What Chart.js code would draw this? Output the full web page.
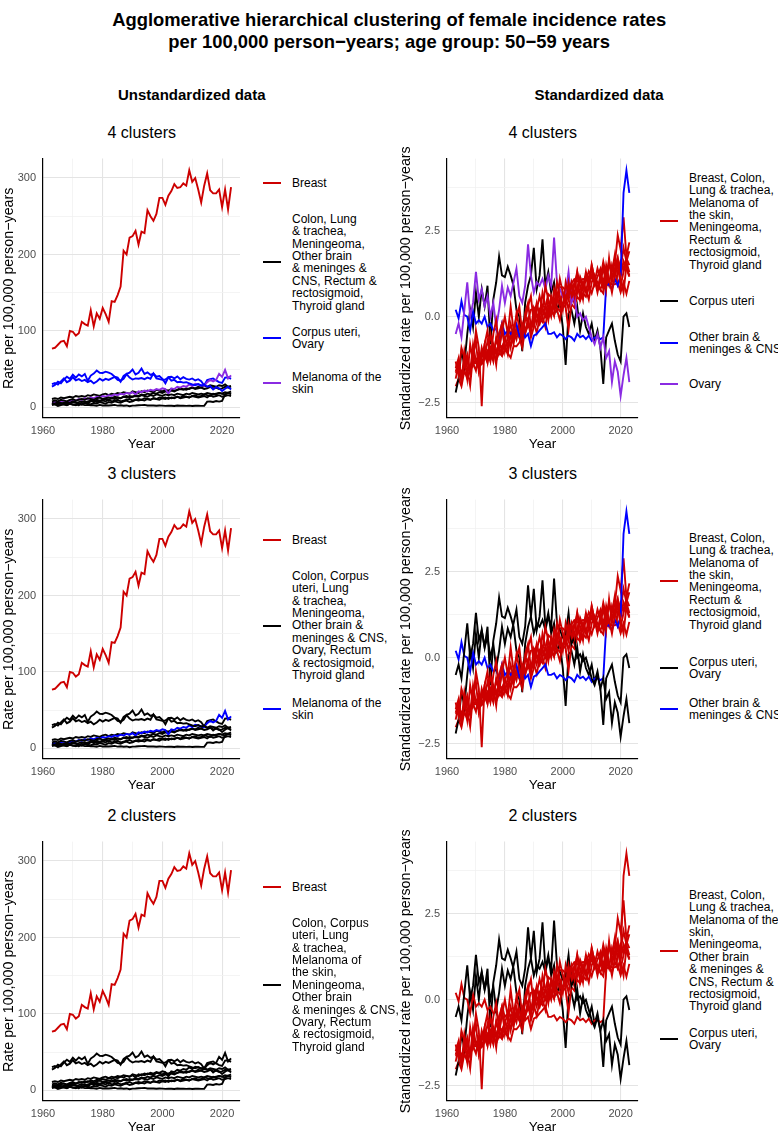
<!DOCTYPE html>
<html><head><meta charset="utf-8">
<script src="https://cdn.jsdelivr.net/npm/chart.js@4.4.1/dist/chart.umd.min.js"></script>
<style>
body{margin:0;background:#fff;font-family:"Liberation Sans",Arial,Helvetica,sans-serif;}
#page{position:relative;width:778px;height:1132px;overflow:hidden;background:#fff;}
.t{position:absolute;white-space:nowrap;color:#000;}
canvas{position:absolute;}
.leg{position:absolute;font-size:12px;line-height:12.4px;color:#000;white-space:nowrap;}
.key{position:absolute;width:18px;height:2px;}
</style></head>
<body><div id="page"></div>
<script>
// ---------------- DATA ----------------
const years = [1963,1964,1965,1966,1967,1968,1969,1970,1971,1972,
1973,1974,1975,1976,1977,1978,1979,1980,1981,1982,
1983,1984,1985,1986,1987,1988,1989,1990,1991,1992,
1993,1994,1995,1996,1997,1998,1999,2000,2001,2002,
2003,2004,2005,2006,2007,2008,2009,2010,2011,2012,
2013,2014,2015,2016,2017,2018,2019,2020,2021,2022,2023];

const seriesNames = ['Breast','Colon','Corpus uteri','Lung & trachea','Melanoma of the skin','Meningeoma',
  'Other brain & meninges & CNS','Ovary','Rectum & rectosigmoid','Thyroid gland'];

// Unstandardized rates per 100,000 person-years
const breast = [77,78,82,86,87,80,100,99,94,97,
112,109,107,127,106,123,116,130,122,112,
139,138,147,158,205,200,222,224,231,213,
230,228,258,250,244,253,274,274,265,277,
283,292,287,288,293,290,310,295,300,285,
268,290,306,284,280,280,285,262,285,259,288];
const colon = [11,12,11,13,12,13,14,13,15,14,
15,14,16,15,17,16,15,17,18,16,
18,17,19,18,20,19,18,21,20,19,
21,20,22,21,20,23,22,21,23,22,
24,22,23,25,24,23,25,26,24,25,
26,24,25,27,25,26,24,25,27,26,25];
const corpusUteri = [27.3,29.5,33.7,31.6,36.4,40.1,37.4,42.7,39.0,43.2,
40.6,43.8,34.8,41.7,44.3,48.3,45.4,45.1,46.7,45.4,
43.8,40.1,39.0,33.7,41.1,43.8,45.4,49.6,43.2,45.4,
50.9,43.8,45.9,42.7,44.3,40.1,41.1,37.4,31.6,39.5,
40.1,37.9,40.6,36.9,39.5,37.4,36.4,37.9,35.3,36.9,
34.2,28.7,35.8,36.9,37.9,35.3,33.2,32.1,39.0,39.5,37.4];
const lungTrachea = [4,5,4,5,6,5,6,7,6,7,
8,7,8,9,8,10,9,10,11,10,
12,11,13,12,14,13,15,14,16,15,
17,16,18,17,19,18,20,19,21,20,
22,21,23,24,23,25,24,26,25,27,
26,28,27,29,28,27,29,28,30,27,28];
const melanoma = [6,7,6,8,9,7,8,10,9,11,
10,12,11,13,12,14,13,15,14,16,
15,17,16,18,17,19,18,20,17,21,
20,22,21,23,22,24,23,25,24,18,
25,24,27,26,28,27,30,28,31,30,
29,28,33,36,34,36,44,40,49,38,42];
const meningeoma = [3,4,2,3,4,3,5,4,3,5,
4,6,5,4,6,5,7,6,5,7,
6,8,7,6,8,9,7,8,10,9,
10,9,11,10,12,11,10,12,13,11,
13,12,14,13,15,14,13,15,16,14,
15,17,16,15,18,17,19,18,20,19,21];
const otherBrain = [5.0,4.0,5.5,4.3,4.2,3.2,4.6,3.4,3.8,3.5,
4.0,3.0,3.4,2.8,2.9,2.3,3.3,2.6,2.8,2.5,
2.9,3.3,2.4,2.8,2.2,2.6,1.6,2.4,2.5,2.8,
3.0,3.3,2.5,2.5,2.6,2.2,2.5,2.4,2.0,2.4,
2.2,1.9,2.5,2.2,2.4,2.0,2.4,1.9,2.2,2.2,
2.0,2.2,7.6,7.8,7.2,8.3,7.6,8.6,17.0,19.5,17.0];
const ovary = [30.5,32,30,34,38,33,35,39.5,35.5,37,
34.5,36,33,35,31.5,34,37.5,35,37.3,36,
38,40,36,35,37.5,43.5,39,36.5,38,37.5,
38.5,37,39,37.5,44.5,38,37,36,36.5,39.5,
35,36,33,33.5,32.5,33,31.5,30,29,30.5,
28.5,30,27,28,23.5,26.5,25,21.5,24.5,27,23.5];
const rectum = [8,9,8,10,9,8,10,11,9,10,
11,10,12,11,10,12,13,11,12,13,
12,14,13,12,14,15,13,14,15,14,
16,15,14,16,15,17,16,15,17,16,
17,16,18,17,16,18,17,19,18,17,
18,17,19,18,17,18,19,18,17,19,18];
const thyroid = [6,5,7,6,5,7,6,8,7,3,
7,8,6,8,9,7,8,9,8,10,
8,9,10,8,9,10,11,9,10,11,
10,12,11,10,12,11,13,12,11,13,
12,13,14,12,13,14,13,15,14,13,
14,15,13,16,14,15,16,14,15,16,15];

// Standardized rates (z-scores per cancer site)
const breastStd = [-1.63,-1.62,-1.57,-1.52,-1.51,-1.59,-1.34,-1.35,-1.42,-1.38,
-1.19,-1.23,-1.25,-1.00,-1.27,-1.05,-1.14,-0.96,-1.06,-1.19,
-0.85,-0.86,-0.75,-0.61,-0.01,-0.08,0.20,0.23,0.32,0.09,
0.30,0.28,0.66,0.56,0.48,0.59,0.86,0.86,0.75,0.90,
0.97,1.09,1.03,1.04,1.10,1.06,1.32,1.13,1.19,1.00,
0.78,1.06,1.27,0.99,0.94,0.94,1.00,0.71,1.00,0.67,1.04];
const colonStd = [-2.02,-1.80,-2.02,-1.57,-1.80,-1.57,-1.34,-1.57,-1.11,-1.34,
-1.11,-1.34,-0.89,-1.11,-0.66,-0.89,-1.11,-0.66,-0.43,-0.89,
-0.43,-0.66,-0.20,-0.43,0.02,-0.20,-0.43,0.25,0.02,-0.20,
0.25,0.02,0.48,0.25,0.02,0.70,0.48,0.25,0.70,0.48,
0.93,0.48,0.70,1.16,0.93,0.70,1.16,1.39,0.93,1.16,
1.39,0.93,1.16,1.61,1.16,1.39,0.93,1.16,1.61,1.39,1.16];
const corpusUteriStd = [-2.2,-1.8,-1.0,-1.4,-0.5,0.2,-0.3,0.7,0.0,0.8,
0.3,0.9,-0.8,0.5,1.0,1.75,1.2,1.15,1.45,1.2,
0.9,0.2,0.0,-1.0,0.4,0.9,1.2,2.0,0.8,1.2,
2.25,0.9,1.3,0.7,1.0,0.2,0.4,-0.3,-1.4,0.1,
0.2,-0.2,0.3,-0.4,0.1,-0.3,-0.5,-0.2,-0.7,-0.4,
-0.9,-1.95,-0.6,-0.4,-0.2,-0.7,-1.1,-1.3,0.0,0.1,-0.3];
const lungTracheaStd = [-1.6,-1.3,-1.7,-1.4,-1.2,-1.6,-1.1,-1.3,-1.5,-1.0,
-1.2,-1.0,-1.3,-0.8,-1.1,-0.7,-1.0,-0.6,-0.9,-0.5,
-0.7,-0.4,-0.6,-0.2,-0.5,-0.1,-0.4,0.1,-0.2,0.2,
0.0,0.3,0.1,0.5,0.2,0.6,0.3,0.7,0.4,0.8,
0.6,1.0,0.7,1.1,0.8,1.3,0.9,1.2,1.0,1.4,
1.1,1.6,1.2,1.5,1.3,1.8,1.2,1.6,1.4,1.7,1.5];
const melanomaStd = [-1.63,-1.53,-1.63,-1.42,-1.32,-1.53,-1.42,-1.21,-1.32,-1.11,
-1.21,-1.00,-1.11,-0.89,-1.00,-0.79,-0.89,-0.68,-0.79,-0.58,
-0.68,-0.47,-0.58,-0.37,-0.47,-0.26,-0.37,-0.16,-0.47,-0.05,
-0.16,0.05,-0.05,0.16,0.05,0.26,0.16,0.37,0.26,-0.37,
0.37,0.26,0.58,0.47,0.68,0.58,0.89,0.68,1.00,0.89,
0.79,0.68,1.21,1.53,1.32,1.53,2.37,1.95,2.89,1.74,2.16];
const meningeomaStd = [-1.5,-1.2,-1.9,-1.4,-1.1,-1.6,-0.8,-1.3,-1.5,-0.9,
-1.2,-0.7,-1.0,-1.3,-0.6,-1.0,-0.4,-0.8,-1.1,-0.5,
-0.8,-0.3,-0.6,-0.9,-0.4,-0.1,-0.6,-0.3,0.1,-0.2,
0.0,-0.3,0.3,0.0,0.5,0.2,-0.1,0.4,0.6,0.2,
0.7,0.4,0.9,0.6,1.0,0.8,0.5,1.0,1.2,0.8,
1.0,1.4,1.1,0.9,1.5,1.2,1.7,1.4,2.0,1.6,1.9];
const otherBrainStd = [0.2,-0.05,0.45,0.05,0.0,-0.4,0.15,-0.2,-0.1,-0.2,
0.0,-0.3,-0.2,-0.4,-0.35,-0.6,-0.2,-0.5,-0.4,-0.5,
-0.35,-0.2,-0.55,-0.4,-0.6,-0.5,-0.85,-0.55,-0.5,-0.4,
-0.3,-0.2,-0.5,-0.5,-0.45,-0.6,-0.5,-0.55,-0.65,-0.55,
-0.6,-0.7,-0.5,-0.6,-0.55,-0.65,-0.55,-0.7,-0.6,-0.6,
-0.65,-0.6,0.9,0.95,0.8,1.1,0.9,1.2,3.6,4.25,3.6];
const ovaryStd = [-0.5,-0.2,-0.6,0.2,1.0,0.0,0.4,1.3,0.5,0.8,
0.3,0.6,0.0,0.4,-0.3,0.2,0.9,0.4,0.85,0.6,
1.0,1.4,0.6,0.4,0.9,2.1,1.2,0.7,1.0,0.9,
1.1,0.8,1.2,0.9,2.3,1.0,0.8,0.6,0.7,1.3,
0.4,0.6,0.0,0.1,-0.1,0.0,-0.3,-0.6,-0.8,-0.5,
-0.9,-0.6,-1.2,-1.0,-1.9,-1.3,-1.6,-2.3,-1.7,-1.2,-1.9];
const rectumStd = [-1.8,-1.4,-1.9,-1.0,-1.5,-2.0,-1.1,-0.7,-1.6,-1.2,
-0.8,-1.3,-0.5,-0.9,-1.4,-0.5,-0.2,-1.0,-0.6,-0.2,
-0.6,0.1,-0.3,-0.7,0.1,0.4,-0.3,0.0,0.4,0.0,
0.7,0.3,-0.1,0.6,0.3,1.0,0.6,0.2,1.0,0.6,
1.0,0.6,1.3,0.9,0.5,1.2,0.9,1.5,1.1,0.8,
1.2,0.8,1.5,1.1,0.7,1.2,1.5,1.1,0.7,1.5,1.2];
const thyroidStd = [-1.3,-1.7,-0.9,-1.2,-1.8,-0.8,-1.3,-0.4,-0.9,-2.6,
-0.8,-0.4,-1.2,-0.5,-0.1,-0.9,-0.4,0.0,-0.5,0.3,
-0.4,0.0,0.3,-0.5,-0.1,0.3,0.6,-0.2,0.2,0.6,
0.2,0.9,0.5,0.1,0.8,0.4,1.1,0.7,0.3,1.0,
0.6,0.9,1.3,0.5,0.9,1.2,0.8,1.5,1.1,0.7,
1.1,1.5,0.8,1.7,1.0,1.4,1.7,0.9,1.3,1.6,1.3];

const rawValues = [breast,colon,corpusUteri,lungTrachea,melanoma,meningeoma,otherBrain,ovary,rectum,thyroid];
const stdValues = [breastStd,colonStd,corpusUteriStd,lungTracheaStd,melanomaStd,meningeomaStd,otherBrainStd,ovaryStd,rectumStd,thyroidStd];

// cluster membership per site (order of seriesNames)
const clustersUnstd4 = [1,2,3,2,4,2,2,3,2,2];
const clustersUnstd3 = [1,2,2,2,3,2,2,2,2,2];
const clustersUnstd2 = [1,2,2,2,2,2,2,2,2,2];
const clustersStd4 = [1,1,2,1,1,1,3,4,1,1];
const clustersStd3 = [1,1,2,1,1,1,3,2,1,1];
const clustersStd2 = [1,1,2,1,1,1,1,2,1,1];

// legend labels per panel (line breaks as in the figure)
const legUnstd4 = ['Breast','Colon, Lung<br>& trachea,<br>Meningeoma,<br>Other brain<br>& meninges &<br>CNS, Rectum &<br>rectosigmoid,<br>Thyroid gland','Corpus uteri,<br>Ovary','Melanoma of the<br>skin'];
const legUnstd3 = ['Breast','Colon, Corpus<br>uteri, Lung<br>& trachea,<br>Meningeoma,<br>Other brain &<br>meninges & CNS,<br>Ovary, Rectum<br>& rectosigmoid,<br>Thyroid gland','Melanoma of the<br>skin'];
const legUnstd2 = ['Breast','Colon, Corpus<br>uteri, Lung<br>& trachea,<br>Melanoma of<br>the skin,<br>Meningeoma,<br>Other brain<br>& meninges & CNS,<br>Ovary, Rectum<br>& rectosigmoid,<br>Thyroid gland'];
const legStd4 = ['Breast, Colon,<br>Lung & trachea,<br>Melanoma of<br>the skin,<br>Meningeoma,<br>Rectum &<br>rectosigmoid,<br>Thyroid gland','Corpus uteri','Other brain &<br>meninges & CNS','Ovary'];
const legStd3 = ['Breast, Colon,<br>Lung & trachea,<br>Melanoma of<br>the skin,<br>Meningeoma,<br>Rectum &<br>rectosigmoid,<br>Thyroid gland','Corpus uteri,<br>Ovary','Other brain &<br>meninges & CNS'];
const legStd2 = ['Breast, Colon,<br>Lung & trachea,<br>Melanoma of the<br>skin,<br>Meningeoma,<br>Other brain<br>& meninges &<br>CNS, Rectum &<br>rectosigmoid,<br>Thyroid gland','Corpus uteri,<br>Ovary'];

const xTicks = [1960,1970,1980,1990,2000,2010,2020];
const xLabels = [1960,1980,2000,2020];
const yTicksUnstd = [0,50,100,150,200,250,300];
const yLabelsUnstd = [0,100,200,300];
const yTicksStd = [-2.5,-1.25,0,1.25,2.5,3.75];
const yLabelsStd = [-2.5,0,2.5];

// ---------------- LAYOUT / STYLE ----------------
const COLORS = ['#CD0000','#000000','#0000FF','#8A2BE2'];
const FONT = '"Liberation Sans", Arial, Helvetica, sans-serif';
Chart.defaults.font.family = FONT;
const page = document.getElementById('page');

function addText(html, x, y, css, anchor) {
  const d = document.createElement('div');
  d.className = 't';
  d.innerHTML = html;
  d.style.cssText += css;
  page.appendChild(d);
  const w = d.offsetWidth, h = d.offsetHeight;
  d.style.left = (anchor === 'center' ? x - w / 2 : x) + 'px';
  d.style.top = (y - h / 2) + 'px';
  return d;
}

addText('Agglomerative hierarchical clustering of female incidence rates', 389, 20, 'font-weight:bold;font-size:19px;transform:scaleX(0.968);', 'center');
addText('per 100,000 person−years; age group: 50−59 years', 389, 42, 'font-weight:bold;font-size:19px;transform:scaleX(0.968);', 'center');
addText('Unstandardized data', 192, 94, 'font-weight:bold;font-size:15px;', 'center');
addText('Standardized data', 599, 94, 'font-weight:bold;font-size:15px;', 'center');

const rowTop = [149, 490, 832];
const plotH = 269;
const rowTitles = ['4 clusters', '3 clusters', '2 clusters'];

function expand(vals) {
  let mn = Infinity, mx = -Infinity;
  vals.forEach(a => a.forEach(v => { if (v < mn) mn = v; if (v > mx) mx = v; }));
  const pad = (mx - mn) * 0.05;
  return [mn - pad, mx + pad];
}

function makePanel(opts) {
  const {left, plotLeft, plotRight, top, std, clusters} = opts;
  const values = std ? stdValues : rawValues;
  const [ymin, ymax] = expand(values);
  const padTop = 4;
  const cv = document.createElement('canvas');
  const W = plotRight + 5 - left, H = plotH + padTop + 42;
  cv.width = W; cv.height = H;
  cv.style.left = left + 'px';
  cv.style.top = (top - padTop) + 'px';
  cv.style.width = W + 'px'; cv.style.height = H + 'px';
  page.appendChild(cv);
  const datasets = seriesNames.map((name, i) => ({
    label: name,
    data: years.map((yr, k) => ({x: yr, y: values[i][k]})),
    borderColor: COLORS[clusters[i] - 1],
    borderWidth: 1.9,
    pointRadius: 0,
    tension: 0,
    fill: false,
    order: -i
  }));
  const yTicks = std ? yTicksStd : yTicksUnstd;
  const yLabels = std ? yLabelsStd : yLabelsUnstd;
  new Chart(cv.getContext('2d'), {
    type: 'line',
    data: {datasets},
    options: {
      responsive: false, animation: false, devicePixelRatio: 1,
      layout: {padding: {top: padTop, right: 5, left: 0, bottom: 0}},
      plugins: {legend: {display: false}, tooltip: {enabled: false}, title: {display: false}},
      scales: {
        x: {
          type: 'linear', min: 1960, max: 2026,
          afterBuildTicks: s => { s.ticks = xTicks.map(v => ({value: v})); },
          afterFit: s => { s.height = 42; },
          ticks: {
            autoSkip: false, maxRotation: 0, padding: 6, color: '#4d4d4d', font: {size: 11},
            callback: v => xLabels.includes(v) ? String(v) : ''
          },
          grid: {
            drawTicks: false,
            color: c => (c.tick && xLabels.includes(c.tick.value)) ? '#e4e4e4' : '#f1f1f1',
            lineWidth: c => (c.tick && xLabels.includes(c.tick.value)) ? 1.1 : 0.8
          },
          border: {display: true, color: '#000', width: 1.2},
          title: {display: true, text: 'Year', color: '#000', font: {size: 13.5}, padding: {top: 0, bottom: 8}}
        },
        y: {
          type: 'linear', min: ymin, max: ymax,
          afterBuildTicks: s => { s.ticks = yTicks.map(v => ({value: v})); },
          afterFit: s => { s.width = plotLeft - left; },
          ticks: {
            autoSkip: false, padding: 7, color: '#4d4d4d', font: {size: 11},
            callback: v => yLabels.includes(v) ? (std ? (v < 0 ? '−' : '') + Math.abs(v).toFixed(1) : String(v)) : ''
          },
          grid: {
            drawTicks: false,
            color: c => (c.tick && yLabels.includes(c.tick.value)) ? '#e4e4e4' : '#f1f1f1',
            lineWidth: c => (c.tick && yLabels.includes(c.tick.value)) ? 1.1 : 0.8
          },
          border: {display: true, color: '#000', width: 1.2},
          title: {display: true, text: std ? 'Standardized rate per 100,000 person−years' : 'Rate per 100,000 person−years',
                  color: '#000', font: {size: 14.3}, padding: {top: std ? 4 : 0, bottom: 0}}
        }
      }
    }
  });
  addText(opts.title, (plotLeft + plotRight) / 2, top - 16, 'font-size:16px;', 'center');
}

function makeLegend(labels, clusters, keyX, firstLines) {
  labels.forEach((lab, i) => {
    const d = document.createElement('div');
    d.className = 'leg';
    d.innerHTML = lab;
    d.style.left = (keyX + 29) + 'px';
    d.style.top = (firstLines[i] - 6.2) + 'px';
    page.appendChild(d);
    const h = d.offsetHeight;
    const k = document.createElement('div');
    k.className = 'key';
    k.style.background = COLORS[clusters[i]];
    k.style.left = keyX + 'px';
    k.style.top = (firstLines[i] - 6.2 + h / 2 - 1) + 'px';
    page.appendChild(k);
  });
}

const L = {left: 0, plotLeft: 43, plotRight: 240};
const R = {left: 393, plotLeft: 447, plotRight: 638};

makePanel({...L, top: rowTop[0], std: false, clusters: clustersUnstd4, title: rowTitles[0]});
makePanel({...L, top: rowTop[1], std: false, clusters: clustersUnstd3, title: rowTitles[1]});
makePanel({...L, top: rowTop[2], std: false, clusters: clustersUnstd2, title: rowTitles[2]});
makePanel({...R, top: rowTop[0], std: true, clusters: clustersStd4, title: rowTitles[0]});
makePanel({...R, top: rowTop[1], std: true, clusters: clustersStd3, title: rowTitles[1]});
makePanel({...R, top: rowTop[2], std: true, clusters: clustersStd2, title: rowTitles[2]});

makeLegend(legUnstd4, [0,1,2,3], 263, [183, 219, 332, 377]);
makeLegend(legUnstd3, [0,1,2], 263, [540, 576, 703]);
makeLegend(legUnstd2, [0,1], 263, [887, 923]);
makeLegend(legStd4, [0,1,2,3], 660, [178, 301, 337, 384]);
makeLegend(legStd3, [0,1,2], 660, [538, 662, 703]);
makeLegend(legStd2, [0,1], 660, [895, 1033]);
</script>
</body></html>
